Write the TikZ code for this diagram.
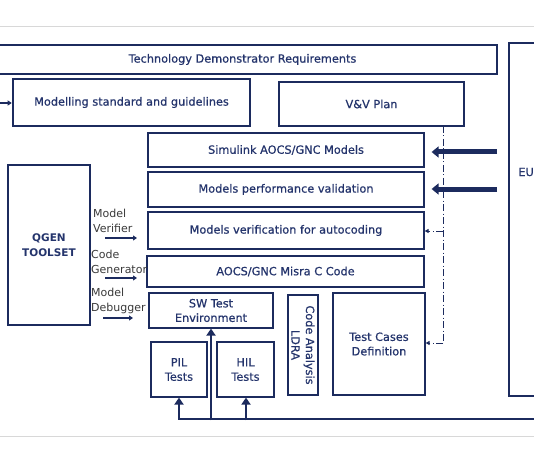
\documentclass[tikz,border=0pt]{standalone}
\usepackage{fontspec}
\setmainfont{DejaVu Sans}
\newfontfamily\boxfont[FakeBold=0.6]{DejaVu Sans}
\usetikzlibrary{arrows.meta,fit,calc}
\definecolor{navy}{HTML}{1C2B5E}
\definecolor{txt}{HTML}{24346C}
\definecolor{lbl}{HTML}{3A3A3A}
\definecolor{rule}{HTML}{D8D8D8}
\begin{document}
\begin{tikzpicture}[x=1pt,y=-1pt,
  boxtext/.style={font=\boxfont\fontsize{11.3}{14.5}\selectfont,text=txt,align=center,inner sep=0pt},
  box/.style={draw=navy,line width=1.2pt,inner sep=0pt},
  thickbox/.style={box,line width=2.6pt},
  lab/.style={font=\fontsize{11}{15}\selectfont,text=lbl,align=left,anchor=west,inner sep=0pt},
  thinarrow/.style={draw=navy,line width=1.8pt,-{Triangle[length=4pt,width=5pt]}},
  fatarrow/.style={draw=navy,line width=5pt,-{Triangle[length=7pt,width=11pt]}},
  busline/.style={draw=navy,line width=2.8pt},
  busarrow/.style={draw=navy,line width=2.8pt,-{Triangle[length=7pt,width=9pt]}},
  dashdot/.style={draw=navy,line width=0.8pt,dash pattern=on 7pt off 2.5pt on 1pt off 2.5pt},
  dasharrow/.style={dashdot,-{Triangle[length=4pt,width=4pt]}}]
\useasboundingbox (0,0) rectangle (534,462);
\fill[white] (0,0) rectangle (534,462);
\draw[rule,line width=0.8pt] (0,26) -- (534,26);
\draw[rule,line width=0.8pt] (0,436) -- (534,436);

\node[box,fit={(-12,45) (497,74)},label={[boxtext]center:Technology Demonstrator Requirements}] (tdr) {};
\node[thickbox,fit={(13,79) (250,126)},label={[boxtext]center:Modelling standard and guidelines}] (msg) {};
\coordinate (msgin) at (0,103);
\draw[thinarrow,line width=1.2pt] (msgin) -- (msg.west|-msgin);
\node[box,fit={(279,82) (464,126)},label={[boxtext]center:V\&V Plan}] (vv) {};
\node[thickbox,fit={(509,43) (560,396)}] (eu) {};
\node[boxtext,anchor=east] (eut) at (534,172) {EU};

\node[box,fit={(148,133) (424,167)},label={[boxtext]center:Simulink AOCS/GNC Models}] (sim) {};
\node[box,fit={(148,172) (424,207)},label={[boxtext]center:Models performance validation}] (perf) {};
\node[box,fit={(148,212) (424,249)},label={[boxtext]center:Models verification for autocoding}] (ver) {};
\node[box,fit={(147,256) (424,287)},label={[boxtext]center:AOCS/GNC Misra C Code}] (misra) {};
\node[box,fit={(149,293) (273,328)},label={[boxtext]center:SW Test\\Environment}] (sw) {};
\node[box,fit={(151,342) (207,397)},label={[boxtext]center:PIL\\Tests}] (pil) {};
\node[box,fit={(217,342) (274,397)},label={[boxtext]center:HIL\\Tests}] (hil) {};
\node[box,fit={(288,295) (318,395)}] (ldra) {};
\node[boxtext,rotate=-90] (ldrat) at (ldra.center) {Code Analysis\\LDRA};
\node[box,fit={(333,293) (425,395)},label={[boxtext]center:Test Cases\\Definition}] (tcd) {};

\node[thickbox,fit={(8,165) (90,325)},label={[boxtext,font=\fontsize{10.5}{14.5}\selectfont\bfseries]center:QGEN\\TOOLSET}] (qgen) {};
\node[lab] (l1) at (93,220.5) {Model\\Verifier};
\node[lab] (l2) at (91,262) {Code\\Generator};
\node[lab] (l3) at (91,301) {Model\\Debugger};
\coordinate (a1) at (105,238);
\coordinate (a2) at (105,278);
\coordinate (a3) at (103,318);
\draw[thinarrow] (a1) -- (137,238);
\draw[thinarrow] (a2) -- (137,278);
\draw[thinarrow] (a3) -- (133,318);

% fat arrows from the right
\coordinate (f1) at (497,152);
\coordinate (f2) at (497,189);
\draw[fatarrow] (f1) -- ($(sim.east|-f1)+(7,0)$);
\draw[fatarrow] (f2) -- ($(perf.east|-f2)+(7,0)$);

% dash-dot line from V&V plan
\coordinate (d0) at (443,126);
\coordinate (d1) at (443,231);
\coordinate (d2) at (443,343);
\draw[dashdot] (d0) -- (d2);
\draw[dasharrow] (d1) -- (ver.east|-d1);
\draw[dasharrow] (d2) -- (tcd.east|-d2);

% bottom bus
\coordinate (b0) at (540,419);
\coordinate (bc) at (179,419);
\draw[busline] (b0) -- (bc);
\draw[busarrow] ([xshift=1.4pt]bc) -- (bc) -- (pil.south-|bc);
\draw[busarrow] (211,420.4) -- (sw.south-|211,0);
\draw[busarrow] (246,420.4) -- (hil.south-|246,0);
\end{tikzpicture}
\end{document}
